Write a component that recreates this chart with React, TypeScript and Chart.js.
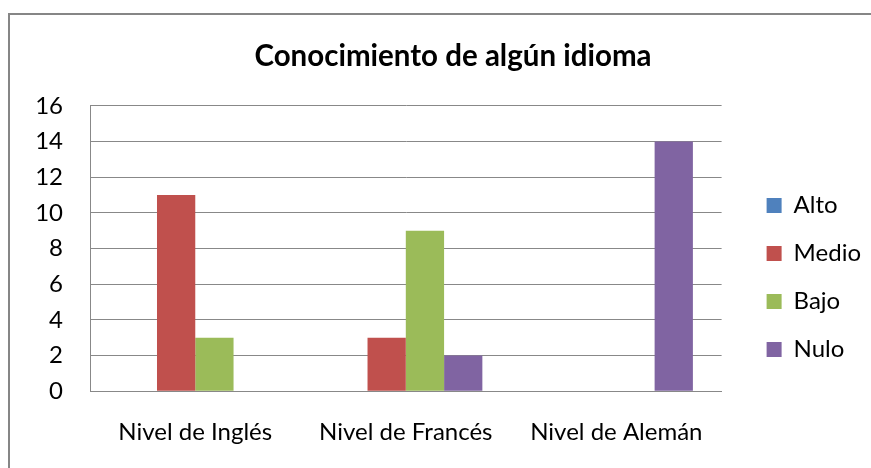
import React, { useEffect, useRef } from "react";
import { Chart, registerables } from "chart.js";

Chart.register(...registerables);

const categories = ["Nivel de Inglés", "Nivel de Francés", "Nivel de Alemán"];
const seriesNames = ["Alto", "Medio", "Bajo", "Nulo"];
const alto = [0, 0, 0];
const medio = [11, 3, 0];
const bajo = [3, 9, 0];
const nulo = [0, 2, 14];
const colors = ["#4F81BD", "#C0504D", "#9BBB59", "#8064A2"];
const yMin = 0;
const yMax = 16;
const yStep = 2;
const title = "Conocimiento de algún idioma";

const FONT = "Lato";
const GRID = "#888888";

export default function App() {
  const ref = useRef<HTMLCanvasElement | null>(null);

  useEffect(() => {
    if (!ref.current) return;
    const values = [alto, medio, bajo, nulo];
    const chart = new Chart(ref.current, {
      type: "bar",
      data: {
        labels: categories,
        datasets: seriesNames.map((name, i) => ({
          label: name,
          data: values[i],
          backgroundColor: colors[i],
          borderWidth: 0,
          categoryPercentage: 4 / 5.5,
          barPercentage: 1,
        })),
      },
      options: {
        responsive: false,
        animation: false,
        devicePixelRatio: 1,
        layout: { padding: { left: 35, right: 0, top: 0, bottom: 21 } },
        plugins: {
          title: {
            display: true,
            text: title,
            color: "#000000",
            font: { family: FONT, size: 29.5, weight: "bold", lineHeight: 1.2 },
            padding: { top: 38.5, bottom: 32 },
          },
          legend: {
            position: "right",
            align: "start",
            fullSize: true,
            title: {
              display: true,
              text: "",
              font: { family: FONT, size: 10, lineHeight: 1 },
              padding: { top: 0, bottom: 159.5 },
            },
            labels: {
              boxWidth: 15,
              boxHeight: 15,
              padding: 24,
              color: "#000000",
              font: { family: FONT, size: 24 },
            },
          },
          tooltip: { enabled: false },
        },
        scales: {
          x: {
            grid: { display: false, drawTicks: true, tickLength: 27 },
            border: { display: true, color: GRID, width: 1 },
            ticks: {
              color: "#000000",
              padding: 0,
              font: { family: FONT, size: 24 },
              maxRotation: 0,
            },
          },
          y: {
            min: yMin,
            max: yMax,
            grid: { color: GRID, drawTicks: false, lineWidth: 1 },
            border: { display: true, color: GRID, width: 1 },
            ticks: {
              stepSize: yStep,
              color: "#000000",
              padding: 27,
              font: { family: FONT, size: 24 },
            },
            afterFit: (s: any) => {
              s.width = 55;
            },
          },
          gap: {
            type: "linear",
            position: "right",
            display: true,
            grid: { display: false, drawTicks: false, drawOnChartArea: false },
            border: { display: false },
            ticks: { display: false },
            afterFit: (s: any) => {
              s.width = 21;
            },
          },
        },
      },
    } as any);
    return () => chart.destroy();
  }, []);

  return (
    <div
      style={{
        position: "absolute",
        left: 0,
        top: 0,
        width: 871,
        height: 468,
        overflow: "hidden",
        background: "#ffffff",
      }}
    >
      <div
        style={{
          position: "absolute",
          left: 8,
          top: 13,
          width: 900,
          height: 500,
          border: "2px solid #868686",
          boxSizing: "border-box",
        }}
      />
      <canvas
        ref={ref}
        width={871}
        height={468}
        style={{ position: "absolute", left: 0, top: 0, width: 871, height: 468 }}
      />
    </div>
  );
}
